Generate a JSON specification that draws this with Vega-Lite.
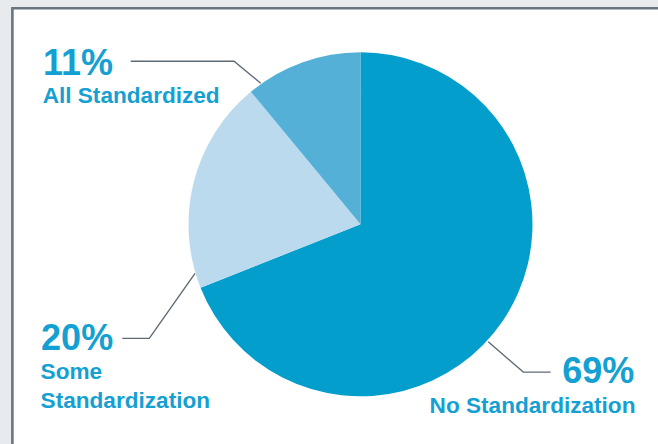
{
  "$schema": "https://vega.github.io/schema/vega-lite/v6.json",
  "width": 658,
  "height": 444,
  "padding": 0,
  "autosize": {"type": "none"},
  "background": "#e8ebee",
  "config": {"view": {"stroke": null}},
  "datasets": {
    "slices": [
      {"category": "No Standardization", "share": 69, "rank": 1},
      {"category": "Some Standardization", "share": 20, "rank": 2},
      {"category": "All Standardized", "share": 11, "rank": 3}
    ],
    "leaders": [
      {"category": "All Standardized", "seq": 1, "lx": -133.6, "ly": 94.8},
      {"category": "All Standardized", "seq": 2, "lx": -73.5, "ly": 94.8},
      {"category": "All Standardized", "seq": 3, "lx": -58.0, "ly": 82.0},
      {"category": "Some Standardization", "seq": 1, "lx": -138.5, "ly": -66.3},
      {"category": "Some Standardization", "seq": 2, "lx": -122.8, "ly": -66.3},
      {"category": "Some Standardization", "seq": 3, "lx": -96.2, "ly": -28.5},
      {"category": "No Standardization", "seq": 1, "lx": 110.6, "ly": -85.9},
      {"category": "No Standardization", "seq": 2, "lx": 94.7, "ly": -85.9},
      {"category": "No Standardization", "seq": 3, "lx": 74.3, "ly": -68.3}
    ],
    "labels": [
      {"category": "All Standardized", "pct": "11%", "name": "All Standardized", "px": -184.6, "py": 86.8, "nx": -184.8, "ny": 70.3},
      {"category": "Some Standardization", "pct": "20%", "name": "Some\nStandardization", "px": -185.7, "py": -73.1, "nx": -186.0, "ny": -89.9},
      {"category": "No Standardization", "pct": "69%", "name": "No Standardization", "px": 159.2, "py": -92.4, "nx": 159.9, "ny": -109.5}
    ]
  },
  "layer": [
    {
      "data": {"values": [{}]},
      "mark": {"type": "rect", "fill": "#ffffff", "stroke": "#677681", "strokeWidth": 2.6, "clip": false},
      "encoding": {
        "x": {"datum": -202.4, "type": "quantitative", "scale": {"domain": [-209.6, 173.0], "nice": false, "zero": false}, "axis": null},
        "x2": {"datum": 200},
        "y": {"datum": 125.6, "type": "quantitative", "scale": {"domain": [-127.7, 130.4], "nice": false, "zero": false}, "axis": null},
        "y2": {"datum": -140}
      }
    },
    {
      "data": {"name": "slices"},
      "mark": {"type": "arc", "outerRadius": 172},
      "encoding": {
        "x": {"datum": 0, "type": "quantitative", "scale": {"domain": [-209.6, 173.0], "nice": false, "zero": false}, "axis": null},
        "y": {"datum": 0, "type": "quantitative", "scale": {"domain": [-127.7, 130.4], "nice": false, "zero": false}, "axis": null},
        "theta": {"field": "share", "type": "quantitative", "stack": true},
        "order": {"field": "rank", "type": "quantitative"},
        "color": {
          "field": "category",
          "type": "nominal",
          "scale": {
            "domain": ["No Standardization", "Some Standardization", "All Standardized"],
            "range": ["#049ecc", "#bbdaed", "#55b0d8"]
          },
          "legend": null
        }
      }
    },
    {
      "data": {"name": "leaders"},
      "mark": {"type": "line", "stroke": "#5e6b76", "strokeWidth": 1.4},
      "encoding": {
        "x": {"field": "lx", "type": "quantitative", "scale": {"domain": [-209.6, 173.0], "nice": false, "zero": false}, "axis": null},
        "y": {"field": "ly", "type": "quantitative", "scale": {"domain": [-127.7, 130.4], "nice": false, "zero": false}, "axis": null},
        "detail": {"field": "category"},
        "order": {"field": "seq", "type": "quantitative"}
      }
    },
    {
      "data": {"name": "labels"},
      "mark": {
        "type": "text",
        "font": "Liberation Sans",
        "fontWeight": "bold",
        "fontSize": 36,
        "color": "#14a0d2",
        "baseline": "alphabetic",
        "align": {"expr": "datum.px > 0 ? 'right' : 'left'"}
      },
      "encoding": {
        "x": {"field": "px", "type": "quantitative", "scale": {"domain": [-209.6, 173.0], "nice": false, "zero": false}, "axis": null},
        "y": {"field": "py", "type": "quantitative", "scale": {"domain": [-127.7, 130.4], "nice": false, "zero": false}, "axis": null},
        "text": {"field": "pct"}
      }
    },
    {
      "data": {"name": "labels"},
      "mark": {
        "type": "text",
        "font": "Liberation Sans",
        "fontWeight": "bold",
        "fontSize": 22.6,
        "lineBreak": "\n",
        "lineHeight": 28.7,
        "color": "#14a0d2",
        "baseline": "alphabetic",
        "align": {"expr": "datum.nx > 0 ? 'right' : 'left'"}
      },
      "encoding": {
        "x": {"field": "nx", "type": "quantitative", "scale": {"domain": [-209.6, 173.0], "nice": false, "zero": false}, "axis": null},
        "y": {"field": "ny", "type": "quantitative", "scale": {"domain": [-127.7, 130.4], "nice": false, "zero": false}, "axis": null},
        "text": {"field": "name"}
      }
    }
  ]
}
